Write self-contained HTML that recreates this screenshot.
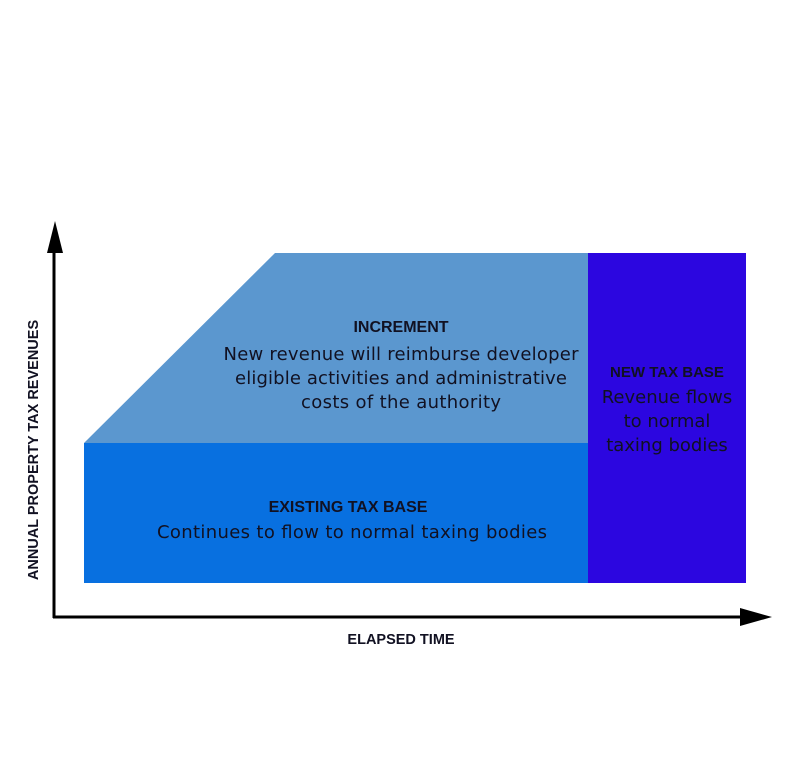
<!DOCTYPE html>
<html><head><style>
body{margin:0;background:#fff;}
svg text{font-family:"Liberation Sans",sans-serif;fill:#111122;}
svg text.b{font-family:"DejaVu Sans",sans-serif;}
</style></head><body>
<svg width="801" height="773" viewBox="0 0 801 773" xmlns="http://www.w3.org/2000/svg">
<rect width="801" height="773" fill="#fff"/>
<polygon points="84,443 275,253 588,253 588,443" fill="#5b97cf"/>
<rect x="84" y="443" width="504" height="140" fill="#0870e0"/>
<rect x="588" y="253" width="158" height="330" fill="#2c06e0"/>
<line x1="54" y1="618" x2="54" y2="250" stroke="#000" stroke-width="3"/>
<polygon points="47,253 55,221 63,253" fill="#000"/>
<line x1="53" y1="617" x2="745" y2="617" stroke="#000" stroke-width="3"/>
<polygon points="740,608 772,617 740,626" fill="#000"/>
<text x="401" y="332" font-size="16" font-weight="bold" text-anchor="middle">INCREMENT</text>
<text class="b" x="401" y="360" font-size="18" text-anchor="middle" textLength="355">New revenue will reimburse developer</text>
<text class="b" x="401" y="384" font-size="18" text-anchor="middle" textLength="332">eligible activities and administrative</text>
<text class="b" x="401" y="408" font-size="18" text-anchor="middle" textLength="200">costs of the authority</text>
<text x="348" y="512" font-size="16" font-weight="bold" text-anchor="middle">EXISTING TAX BASE</text>
<text class="b" x="352" y="538" font-size="18" text-anchor="middle" textLength="390">Continues to flow to normal taxing bodies</text>
<text x="667" y="377" font-size="15" font-weight="bold" text-anchor="middle">NEW TAX BASE</text>
<text class="b" x="667" y="403" font-size="18" text-anchor="middle">Revenue flows</text>
<text class="b" x="667" y="427" font-size="18" text-anchor="middle">to normal</text>
<text class="b" x="667" y="451" font-size="18" text-anchor="middle">taxing bodies</text>
<text x="401" y="644" font-size="14.5" font-weight="bold" text-anchor="middle">ELAPSED TIME</text>
<text transform="translate(38,450) rotate(-90)" font-size="14.5" font-weight="bold" text-anchor="middle">ANNUAL PROPERTY TAX REVENUES</text>
</svg>
</body></html>
